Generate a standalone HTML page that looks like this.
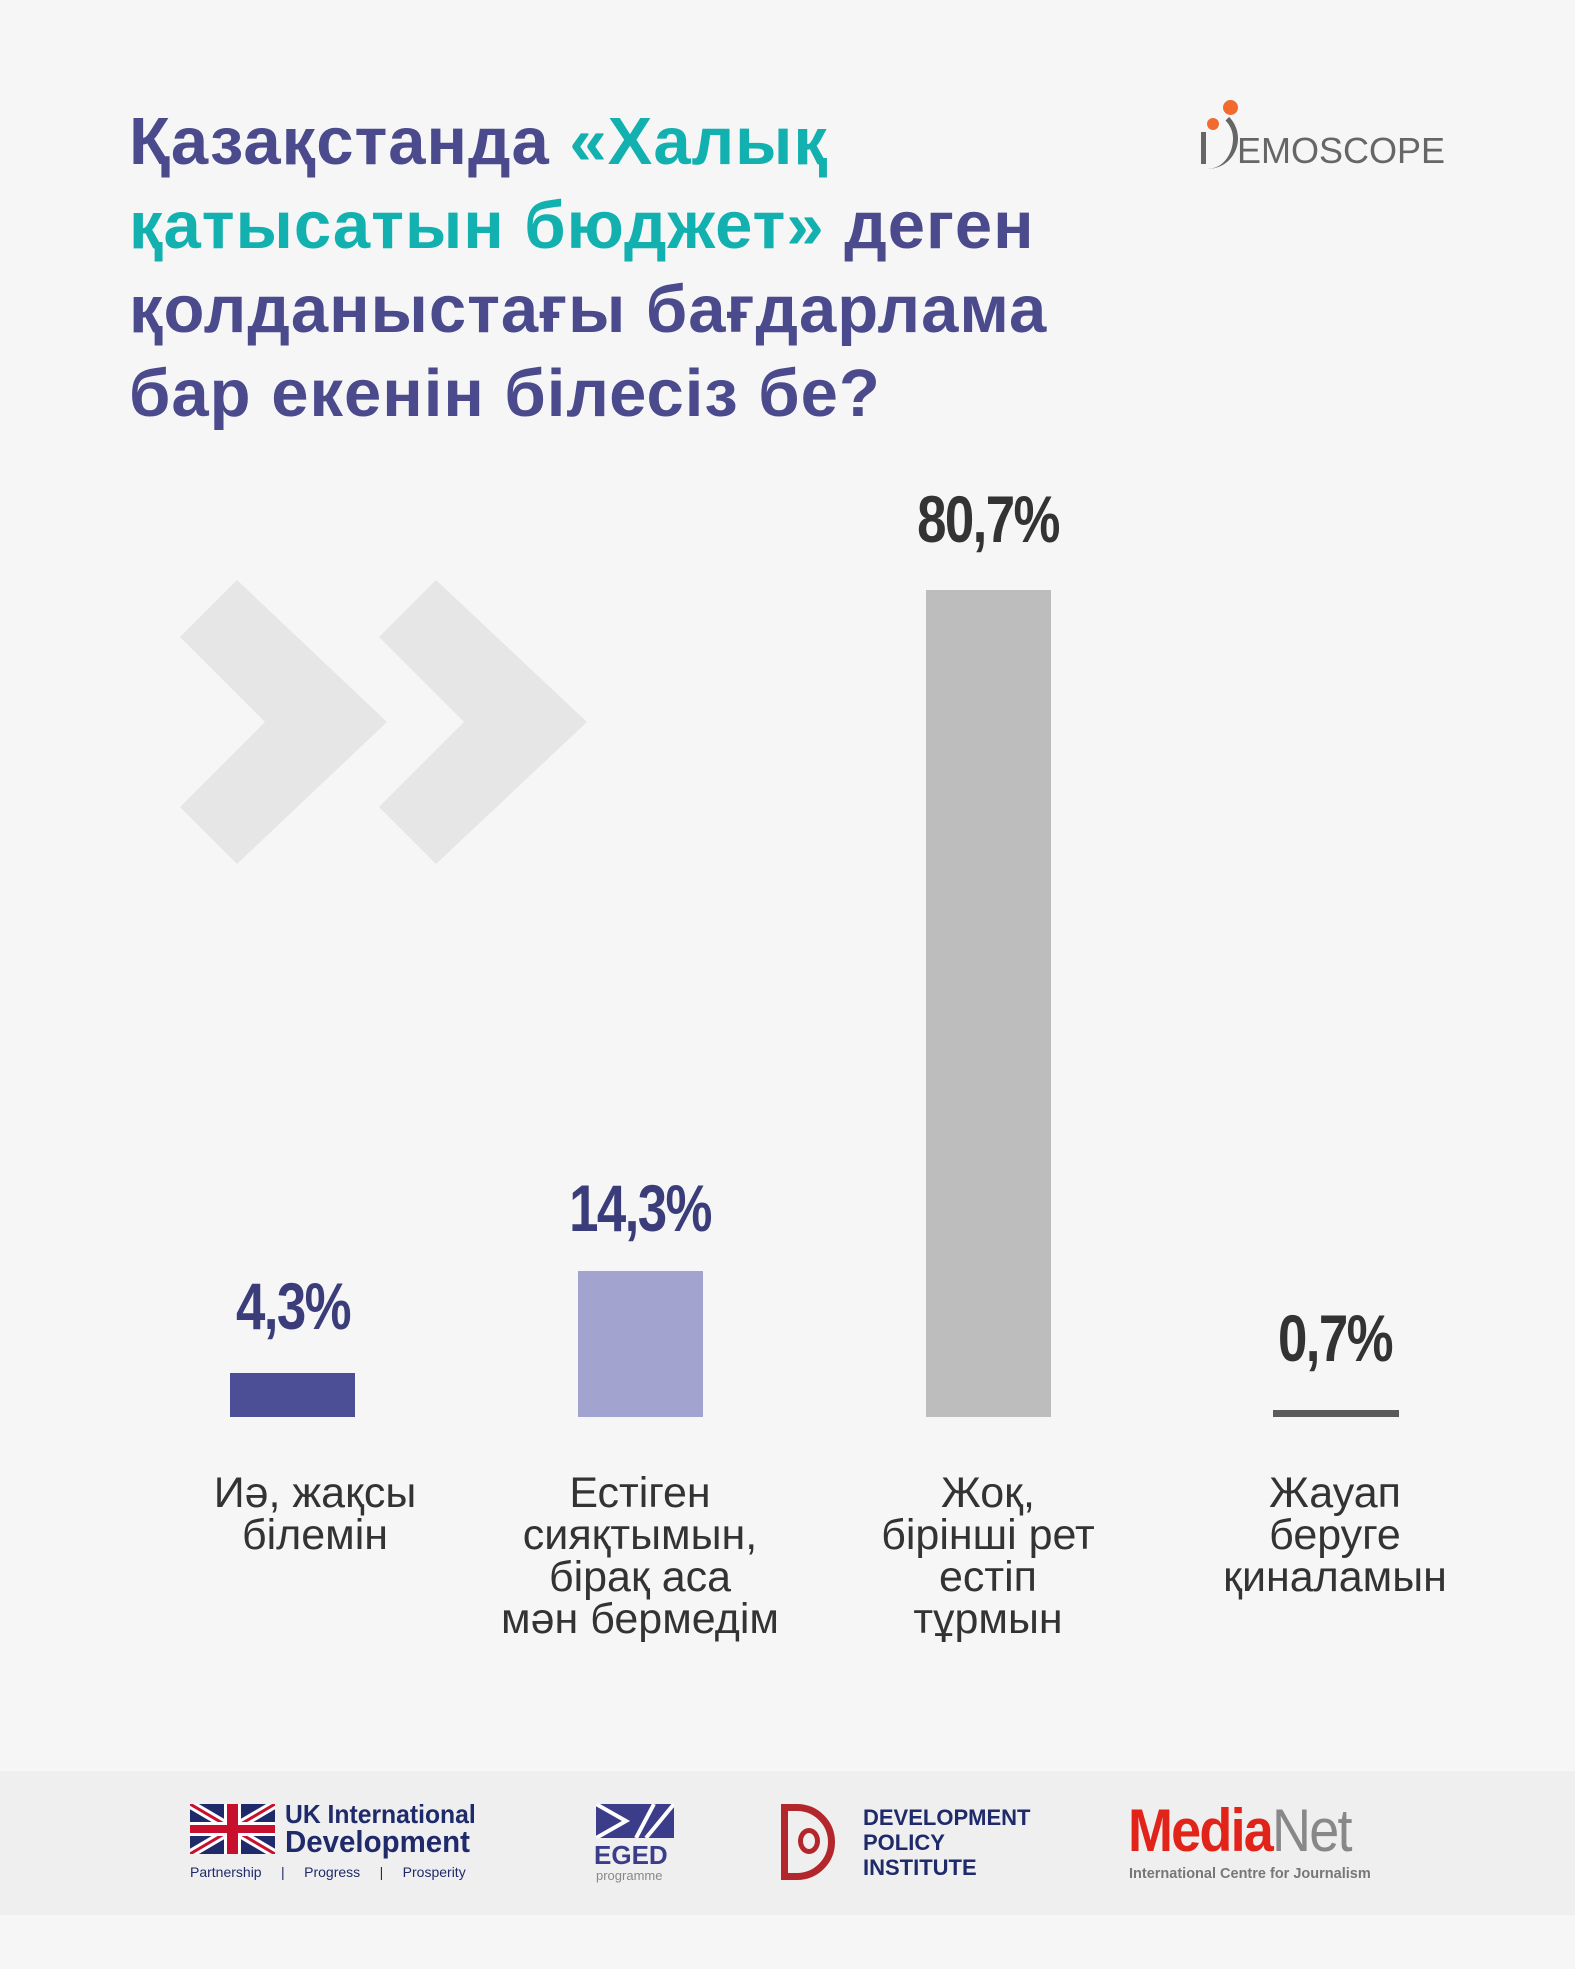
<!DOCTYPE html>
<html><head><meta charset="utf-8"><style>
body{margin:0;width:1575px;height:1969px;background:#f6f6f6;position:relative;overflow:hidden;font-family:"Liberation Sans",sans-serif}
.a{position:absolute}
.t{left:129px;top:100px;font-size:67px;font-weight:bold;line-height:84px;color:#4a4a8c;letter-spacing:1px}
.t span{color:#13b0b0}
.v{font-family:"Liberation Sans Narrow","Liberation Sans",sans-serif;font-weight:bold;font-size:66px;width:300px;text-align:center;letter-spacing:-2px;transform:scaleX(0.8)}
.c{font-size:43px;line-height:42px;color:#333;width:360px;text-align:center}
</style></head><body>
<div class="a t">Қазақстанда <span>«Халық<br>қатысатын бюджет»</span> деген<br>қолданыстағы бағдарлама<br>бар екенін білесіз бе?</div>

<div class="a" style="left:1193px;top:100px;width:260px;height:70px">
<div class="a" style="left:8px;top:32px;width:5px;height:32px;background:#666"></div>
<div class="a" style="left:0;top:8px;width:40px;height:56px;border-right:5px solid #666;border-radius:0 40px 40px 0;border-top:5px solid transparent"></div>
<div class="a" style="left:30px;top:0;width:15px;height:15px;border-radius:50%;background:#f26a2e"></div>
<div class="a" style="left:14px;top:18px;width:12px;height:12px;border-radius:50%;background:#f26a2e"></div>
<div class="a" style="left:44px;top:30px;font-size:36px;color:#666;letter-spacing:0px">EMOSCOPE</div>
</div>

<svg class="a" style="left:0;top:0" width="1575" height="1969">
<polygon points="180,637 237,580 387,722 237,864 180,807 265,722" fill="#e6e6e6"/>
<polygon points="379,637 436,580 587,722 436,864 379,807 464,722" fill="#e6e6e6"/>
<rect x="230" y="1373" width="125" height="44" fill="#4d4f96"/>
<rect x="578" y="1271" width="125" height="146" fill="#a2a3cf"/>
<rect x="926" y="590" width="125" height="827" fill="#bdbdbe"/>
<rect x="1273" y="1410" width="126" height="7" fill="#5b5b5b"/>
<rect x="0" y="1771" width="1575" height="144" fill="#efefef"/>
</svg>

<div class="a v" style="left:143px;top:1268px;color:#3b3d7a">4,3%</div>
<div class="a v" style="left:490px;top:1170px;color:#3b3d7a">14,3%</div>
<div class="a v" style="left:838px;top:481px;color:#333">80,7%</div>
<div class="a v" style="left:1185px;top:1300px;color:#333">0,7%</div>

<div class="a c" style="left:135px;top:1472px">Иә, жақсы<br>білемін</div>
<div class="a c" style="left:460px;top:1472px">Естіген<br>сияқтымын,<br>бірақ аса<br>мән бермедім</div>
<div class="a c" style="left:808px;top:1472px">Жоқ,<br>бірінші рет<br>естіп<br>тұрмын</div>
<div class="a c" style="left:1155px;top:1472px">Жауап<br>беруге<br>қиналамын</div>

<!-- footer logos -->
<svg class="a" style="left:190px;top:1804px" width="85" height="50"><rect width="85" height="50" fill="#1f2a6b"/><path d="M0,0L85,50M85,0L0,50" stroke="#fff" stroke-width="9"/><path d="M0,0L85,50M85,0L0,50" stroke="#c8102e" stroke-width="3"/><rect x="34" width="17" height="50" fill="#fff"/><rect y="18" width="85" height="14" fill="#fff"/><rect x="37" width="11" height="50" fill="#c8102e"/><rect y="21" width="85" height="8" fill="#c8102e"/></svg>
<div class="a" style="left:285px;top:1800px;font-size:26px;font-weight:bold;color:#1f2a6b;line-height:28px;transform:scaleX(.95);transform-origin:left">UK International<br><span style="font-size:31px">Development</span></div>
<div class="a" style="left:190px;top:1864px;font-size:14px;color:#1f2a6b">Partnership &nbsp; &nbsp; | &nbsp; &nbsp; Progress &nbsp; &nbsp; | &nbsp; &nbsp; Prosperity</div>

<svg class="a" style="left:596px;top:1804px" width="78" height="34"><rect width="78" height="34" fill="#3b3d8a"/><path d="M0,0L30,17L0,34M78,0L50,34M40,34L58,0" stroke="#fff" stroke-width="4" fill="none"/></svg>
<div class="a" style="left:594px;top:1840px;font-size:26px;font-weight:bold;color:#3b3d8a">EGED</div>
<div class="a" style="left:596px;top:1868px;font-size:13px;color:#888">programme</div>

<div class="a" style="left:781px;top:1804px;width:54px;height:76px;border:7px solid #b3262b;border-radius:0 40px 40px 0;box-sizing:border-box"></div>
<div class="a" style="left:798px;top:1828px;width:22px;height:26px;border:5px solid #b3262b;border-radius:50%;box-sizing:border-box"></div>
<div class="a" style="left:863px;top:1805px;font-size:22px;font-weight:bold;color:#1f2a6b;line-height:25px">DEVELOPMENT<br>POLICY<br>INSTITUTE</div>

<div class="a" style="left:1128px;top:1796px;font-size:60px;font-weight:bold;letter-spacing:-2px;color:#e2231a;transform:scaleX(.9);transform-origin:left">Media<span style="color:#888;font-weight:normal">Net</span></div>
<div class="a" style="left:1129px;top:1866px;font-size:14.5px;font-weight:bold;color:#777">International Centre for Journalism</div>
</body></html>
